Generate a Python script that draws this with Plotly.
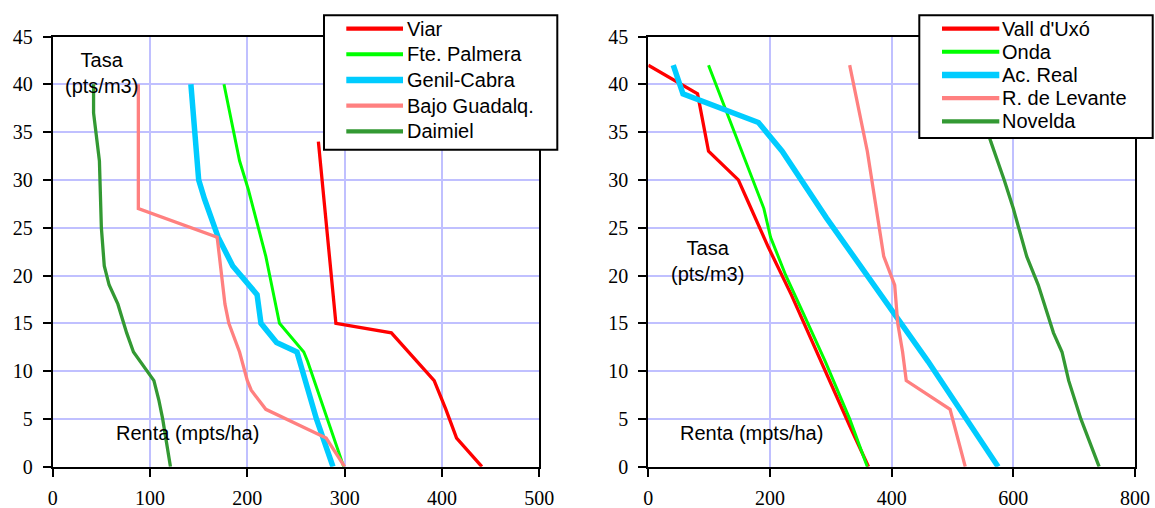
import plotly.graph_objects as go

# ---- Left panel: Andalucía / Castilla-La Mancha zones ----
viar_tasa = [34, 15, 14, 9, 6, 3, 0]
viar_renta = [273, 291, 348, 392, 404, 415, 441]

palmera_tasa = [40, 35, 32, 29, 25, 22, 20, 15, 12, 11, 0]
palmera_renta = [176, 186, 192, 201, 211, 219, 223, 233, 258, 262, 299]

genil_tasa = [40, 36, 30, 28, 24, 21, 18, 15, 13, 12, 10, 5, 0]
genil_renta = [142, 145, 150, 156, 170, 185, 210, 214, 230, 251, 257, 271, 288]

bajo_tasa = [40, 27, 24, 17, 15, 12, 9, 8, 6, 3, 0]
bajo_renta = [88, 88, 169, 177, 181, 192, 200, 204, 219, 281, 300]

daimiel_tasa = [40, 37, 32, 25, 21, 19, 17, 14, 12, 9, 7, 5, 0]
daimiel_renta = [42, 42, 48, 50, 53, 58, 67, 76, 83, 104, 109, 113, 121]

# ---- Right panel: Valencia zones ----
vall_tasa = [42, 40, 39, 33, 30, 28, 23, 18, 12, 7, 4, 0]
vall_renta = [0, 55, 81, 99, 148, 162, 197, 235, 277, 311, 333, 362]

onda_tasa = [42, 37, 32, 27, 24, 20, 16, 11, 5, 0]
onda_renta = [99, 129, 159, 190, 201, 226, 255, 291, 331, 360]

acreal_tasa = [42, 39, 36, 33, 26, 22, 15, 11, 0]
acreal_renta = [41, 57, 181, 220, 293, 337, 416, 460, 575]

levante_tasa = [42, 33, 22, 19, 15, 12, 9, 6, 0]
levante_renta = [331, 360, 387, 405, 410, 418, 424, 496, 521]

novelda_tasa = [42, 34, 30, 27, 22, 19, 14, 12, 9, 5, 0]
novelda_renta = [523, 563, 585, 600, 622, 641, 666, 680, 691, 711, 741]

left_series = [
    ("Viar", viar_renta, viar_tasa, "#FF0000", 3.3),
    ("Fte. Palmera", palmera_renta, palmera_tasa, "#00FF00", 3.0),
    ("Genil-Cabra", genil_renta, genil_tasa, "#00CCFF", 5.5),
    ("Bajo Guadalq.", bajo_renta, bajo_tasa, "#FF8080", 3.3),
    ("Daimiel", daimiel_renta, daimiel_tasa, "#339933", 3.3),
]
right_series = [
    ("Vall d'Uxó", vall_renta, vall_tasa, "#FF0000", 3.3),
    ("Onda", onda_renta, onda_tasa, "#00FF00", 3.0),
    ("Ac. Real", acreal_renta, acreal_tasa, "#00CCFF", 5.5),
    ("R. de Levante", levante_renta, levante_tasa, "#FF8080", 3.3),
    ("Novelda", novelda_renta, novelda_tasa, "#339933", 3.3),
]

y_ticks = [0, 5, 10, 15, 20, 25, 30, 35, 40, 45]
left_x_ticks = [0, 100, 200, 300, 400, 500]
right_x_ticks = [0, 200, 400, 600, 800]

W, H = 1155, 508
SANS = "Liberation Sans"
SERIF = "Liberation Serif"


def px(x):
    return x / W


def py(y):
    return 1 - y / H


fig = go.Figure()

for name, renta, tasa, color, width in left_series:
    fig.add_trace(go.Scatter(x=renta, y=tasa, mode="lines", name=name,
                             line=dict(color=color, width=width),
                             xaxis="x", yaxis="y", showlegend=False))
for name, renta, tasa, color, width in right_series:
    fig.add_trace(go.Scatter(x=renta, y=tasa, mode="lines", name=name,
                             line=dict(color=color, width=width),
                             xaxis="x2", yaxis="y2", showlegend=False))

axis_style = dict(
    showline=True, linecolor="black", linewidth=2, mirror=True,
    ticks="outside", ticklen=8, tickwidth=2, tickcolor="black",
    showgrid=True, gridcolor="#C0C0FF", gridwidth=1.5, zeroline=False,
    automargin=False,
    tickfont=dict(family=SERIF, size=20, color="black"),
)
x_style = dict(axis_style, ticklabelstandoff=4)
y_style = dict(axis_style, ticklabelstandoff=6)

y_dom = [py(466.7), py(36.5)]
fig.update_layout(
    template="none",
    width=W, height=H,
    margin=dict(l=0, r=0, t=0, b=0, pad=0),
    paper_bgcolor="white", plot_bgcolor="white",
    font=dict(family=SANS, size=20, color="black"),
    xaxis=dict(domain=[px(52.7), px(539.3)], range=[0, 500],
               tickvals=left_x_ticks, anchor="y", **x_style),
    yaxis=dict(domain=y_dom, range=[0, 45], tickvals=y_ticks,
               anchor="x", **y_style),
    xaxis2=dict(domain=[px(648.3), px(1135)], range=[0, 800],
                tickvals=right_x_ticks, anchor="y2", **x_style),
    yaxis2=dict(domain=y_dom, range=[0, 45], tickvals=y_ticks,
                anchor="x2", **y_style),
)

# In-plot axis captions
text_font = dict(family=SANS, size=20, color="black")
fig.add_annotation(x=50.3, y=41.2, xref="x", yref="y", text="Tasa<br>(pts/m3)",
                   showarrow=False, font=text_font, align="center")
fig.add_annotation(x=138, y=3.56, xref="x", yref="y", text="Renta (mpts/ha)",
                   showarrow=False, font=text_font)
fig.add_annotation(x=98, y=21.5, xref="x2", yref="y2", text="Tasa<br>(pts/m3)",
                   showarrow=False, font=text_font, align="center")
fig.add_annotation(x=170, y=3.56, xref="x2", yref="y2", text="Renta (mpts/ha)",
                   showarrow=False, font=text_font)


def boxed_legend(series, box, line_x0, line_x1, text_x, row0, row_step):
    x0, y0, x1, y1 = box
    fig.add_shape(type="rect", xref="paper", yref="paper",
                  x0=px(x0), x1=px(x1), y0=py(y0), y1=py(y1),
                  fillcolor="white", line=dict(color="black", width=2),
                  layer="above")
    for i, (name, _, _, color, width) in enumerate(series):
        yy = row0 + i * row_step
        fig.add_shape(type="line", xref="paper", yref="paper",
                      x0=px(line_x0), x1=px(line_x1), y0=py(yy), y1=py(yy),
                      line=dict(color=color, width=width + 1), layer="above")
        fig.add_annotation(x=px(text_x), y=py(yy), xref="paper", yref="paper",
                           text=name, showarrow=False, font=text_font,
                           xanchor="left", yanchor="middle")


boxed_legend(left_series, (324, 15.3, 557.3, 149.7), 346.3, 403, 404.5, 28.7, 25.65)
boxed_legend(right_series, (919.3, 15.3, 1152.7, 138), 942, 999.3, 1000, 28.7, 23.15)

fig.write_html("out.html")
